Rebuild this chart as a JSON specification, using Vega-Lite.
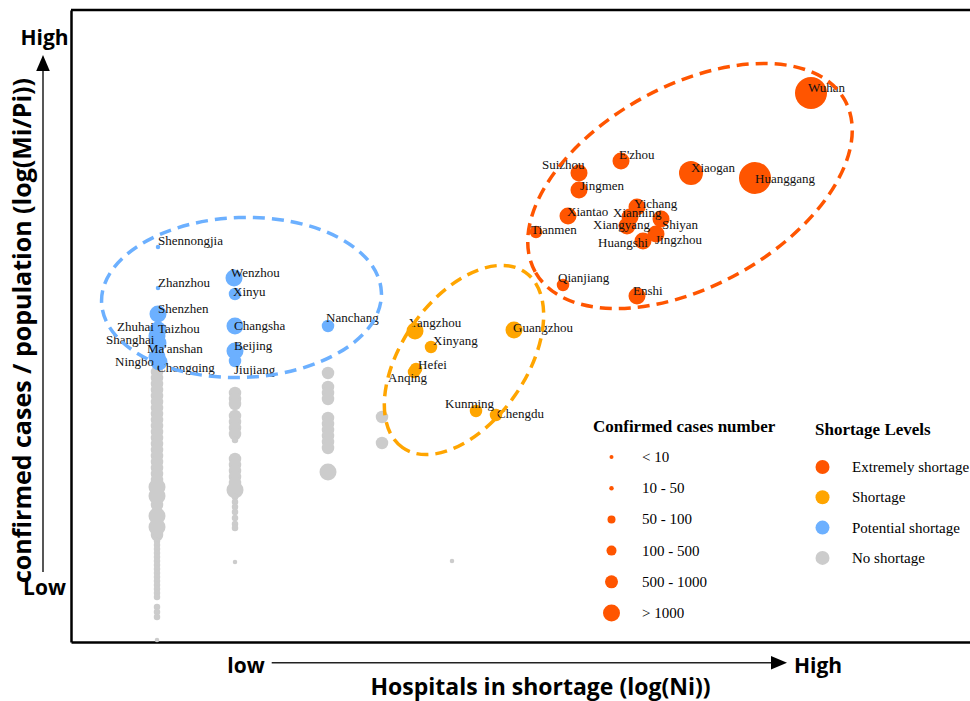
{
  "$schema": "https://vega.github.io/schema/vega-lite/v6.json",
  "width": 899,
  "height": 632,
  "autosize": {"type": "none"},
  "padding": {"left": 71, "top": 10, "right": 0, "bottom": 59},
  "background": "white",
  "config": {"view": {"stroke": null}},
  "resolve": {"scale": {"size": "independent"}, "legend": {"size": "independent"}},
  "datasets": {
    "points": [
      {"level": "No shortage", "cases": 50, "x": 0.86, "y": 2.70},
      {"level": "No shortage", "cases": 50, "x": 0.86, "y": 2.64},
      {"level": "No shortage", "cases": 50, "x": 0.86, "y": 2.58},
      {"level": "No shortage", "cases": 50, "x": 0.86, "y": 2.52},
      {"level": "No shortage", "cases": 50, "x": 0.86, "y": 2.46},
      {"level": "No shortage", "cases": 50, "x": 0.86, "y": 2.40},
      {"level": "No shortage", "cases": 50, "x": 0.86, "y": 2.34},
      {"level": "No shortage", "cases": 50, "x": 0.86, "y": 2.28},
      {"level": "No shortage", "cases": 50, "x": 0.86, "y": 2.22},
      {"level": "No shortage", "cases": 50, "x": 0.86, "y": 2.16},
      {"level": "No shortage", "cases": 50, "x": 0.86, "y": 2.10},
      {"level": "No shortage", "cases": 50, "x": 0.86, "y": 2.04},
      {"level": "No shortage", "cases": 50, "x": 0.86, "y": 1.98},
      {"level": "No shortage", "cases": 50, "x": 0.86, "y": 1.92},
      {"level": "No shortage", "cases": 50, "x": 0.86, "y": 1.86},
      {"level": "No shortage", "cases": 50, "x": 0.86, "y": 1.80},
      {"level": "No shortage", "cases": 50, "x": 0.86, "y": 1.74},
      {"level": "No shortage", "cases": 50, "x": 0.86, "y": 1.68},
      {"level": "No shortage", "cases": 50, "x": 0.86, "y": 1.62},
      {"level": "No shortage", "cases": 50, "x": 0.86, "y": 1.37},
      {"level": "No shortage", "cases": 50, "x": 0.86, "y": 1.07},
      {"level": "No shortage", "cases": 100, "x": 0.86, "y": 1.55},
      {"level": "No shortage", "cases": 100, "x": 0.86, "y": 1.46},
      {"level": "No shortage", "cases": 100, "x": 0.86, "y": 1.26},
      {"level": "No shortage", "cases": 100, "x": 0.86, "y": 1.15},
      {"level": "No shortage", "cases": 10, "x": 0.86, "y": 1.01},
      {"level": "No shortage", "cases": 10, "x": 0.86, "y": 0.97},
      {"level": "No shortage", "cases": 10, "x": 0.86, "y": 0.93},
      {"level": "No shortage", "cases": 10, "x": 0.86, "y": 0.89},
      {"level": "No shortage", "cases": 10, "x": 0.86, "y": 0.85},
      {"level": "No shortage", "cases": 10, "x": 0.86, "y": 0.81},
      {"level": "No shortage", "cases": 10, "x": 0.86, "y": 0.77},
      {"level": "No shortage", "cases": 10, "x": 0.86, "y": 0.73},
      {"level": "No shortage", "cases": 10, "x": 0.86, "y": 0.69},
      {"level": "No shortage", "cases": 10, "x": 0.86, "y": 0.65},
      {"level": "No shortage", "cases": 10, "x": 0.86, "y": 0.61},
      {"level": "No shortage", "cases": 10, "x": 0.86, "y": 0.57},
      {"level": "No shortage", "cases": 10, "x": 0.86, "y": 0.53},
      {"level": "No shortage", "cases": 10, "x": 0.86, "y": 0.49},
      {"level": "No shortage", "cases": 10, "x": 0.86, "y": 0.45},
      {"level": "No shortage", "cases": 10, "x": 0.86, "y": 0.35},
      {"level": "No shortage", "cases": 10, "x": 0.86, "y": 0.30},
      {"level": "No shortage", "cases": 10, "x": 0.86, "y": 0.25},
      {"level": "No shortage", "cases": 5, "x": 0.86, "y": 0.02},
      {"level": "No shortage", "cases": 50, "x": 1.64, "y": 2.49},
      {"level": "No shortage", "cases": 50, "x": 1.64, "y": 2.43},
      {"level": "No shortage", "cases": 50, "x": 1.64, "y": 2.38},
      {"level": "No shortage", "cases": 50, "x": 1.64, "y": 2.26},
      {"level": "No shortage", "cases": 50, "x": 1.64, "y": 2.20},
      {"level": "No shortage", "cases": 50, "x": 1.64, "y": 2.14},
      {"level": "No shortage", "cases": 50, "x": 1.64, "y": 2.08},
      {"level": "No shortage", "cases": 10, "x": 1.64, "y": 2.02},
      {"level": "No shortage", "cases": 50, "x": 1.64, "y": 1.83},
      {"level": "No shortage", "cases": 50, "x": 1.64, "y": 1.77},
      {"level": "No shortage", "cases": 50, "x": 1.64, "y": 1.71},
      {"level": "No shortage", "cases": 50, "x": 1.64, "y": 1.65},
      {"level": "No shortage", "cases": 50, "x": 1.64, "y": 1.59},
      {"level": "No shortage", "cases": 100, "x": 1.64, "y": 1.52},
      {"level": "No shortage", "cases": 10, "x": 1.64, "y": 1.45},
      {"level": "No shortage", "cases": 10, "x": 1.64, "y": 1.40},
      {"level": "No shortage", "cases": 10, "x": 1.64, "y": 1.35},
      {"level": "No shortage", "cases": 10, "x": 1.64, "y": 1.30},
      {"level": "No shortage", "cases": 10, "x": 1.64, "y": 1.24},
      {"level": "No shortage", "cases": 10, "x": 1.64, "y": 1.18},
      {"level": "No shortage", "cases": 10, "x": 1.64, "y": 1.14},
      {"level": "No shortage", "cases": 5, "x": 1.64, "y": 0.80},
      {"level": "No shortage", "cases": 50, "x": 2.57, "y": 2.69},
      {"level": "No shortage", "cases": 50, "x": 2.57, "y": 2.55},
      {"level": "No shortage", "cases": 50, "x": 2.57, "y": 2.49},
      {"level": "No shortage", "cases": 50, "x": 2.57, "y": 2.43},
      {"level": "No shortage", "cases": 50, "x": 2.57, "y": 2.24},
      {"level": "No shortage", "cases": 50, "x": 2.57, "y": 2.18},
      {"level": "No shortage", "cases": 50, "x": 2.57, "y": 2.12},
      {"level": "No shortage", "cases": 50, "x": 2.57, "y": 2.06},
      {"level": "No shortage", "cases": 50, "x": 2.57, "y": 2.00},
      {"level": "No shortage", "cases": 50, "x": 2.57, "y": 1.94},
      {"level": "No shortage", "cases": 100, "x": 2.57, "y": 1.70},
      {"level": "No shortage", "cases": 50, "x": 3.11, "y": 2.25},
      {"level": "No shortage", "cases": 50, "x": 3.11, "y": 1.99},
      {"level": "No shortage", "cases": 5, "x": 3.81, "y": 0.81},
      {"city": "Wuhan", "level": "Extremely shortage", "cases": 1000, "x": 7.40, "y": 5.49, "lx": 7.37, "ly": 5.54},
      {"city": "Huanggang", "level": "Extremely shortage", "cases": 1000, "x": 6.84, "y": 4.64, "lx": 6.84, "ly": 4.63},
      {"city": "Xiaogan", "level": "Extremely shortage", "cases": 500, "x": 6.20, "y": 4.69, "lx": 6.20, "ly": 4.74},
      {"city": "E'zhou", "level": "Extremely shortage", "cases": 100, "x": 5.50, "y": 4.81, "lx": 5.48, "ly": 4.87},
      {"city": "Suizhou", "level": "Extremely shortage", "cases": 100, "x": 5.08, "y": 4.69, "lx": 4.71, "ly": 4.77},
      {"city": "Jingmen", "level": "Extremely shortage", "cases": 100, "x": 5.08, "y": 4.52, "lx": 5.09, "ly": 4.56},
      {"city": "Xiantao", "level": "Extremely shortage", "cases": 100, "x": 4.97, "y": 4.26, "lx": 4.96, "ly": 4.30},
      {"city": "Tianmen", "level": "Extremely shortage", "cases": 50, "x": 4.65, "y": 4.10, "lx": 4.60, "ly": 4.12},
      {"city": "Yichang", "level": "Extremely shortage", "cases": 100, "x": 5.66, "y": 4.35, "lx": 5.63, "ly": 4.38},
      {"city": "Xianning", "level": "Extremely shortage", "cases": 100, "x": 5.59, "y": 4.25, "lx": 5.42, "ly": 4.29},
      {"city": "Xiangyang", "level": "Extremely shortage", "cases": 100, "x": 5.56, "y": 4.16, "lx": 5.22, "ly": 4.17},
      {"city": "Shiyan", "level": "Extremely shortage", "cases": 100, "x": 5.90, "y": 4.23, "lx": 5.91, "ly": 4.17},
      {"city": "Huangshi", "level": "Extremely shortage", "cases": 100, "x": 5.72, "y": 4.01, "lx": 5.27, "ly": 3.99},
      {"city": "Jingzhou", "level": "Extremely shortage", "cases": 100, "x": 5.85, "y": 4.08, "lx": 5.84, "ly": 4.02},
      {"city": "Qianjiang", "level": "Extremely shortage", "cases": 50, "x": 4.92, "y": 3.57, "lx": 4.87, "ly": 3.64},
      {"city": "Enshi", "level": "Extremely shortage", "cases": 100, "x": 5.66, "y": 3.46, "lx": 5.62, "ly": 3.51},
      {"city": "Yangzhou", "level": "Shortage", "cases": 100, "x": 3.44, "y": 3.11, "lx": 3.38, "ly": 3.19},
      {"city": "Xinyang", "level": "Shortage", "cases": 50, "x": 3.60, "y": 2.95, "lx": 3.62, "ly": 3.01},
      {"city": "Hefei", "level": "Shortage", "cases": 50, "x": 3.45, "y": 2.73, "lx": 3.47, "ly": 2.77},
      {"city": "Anqing", "level": "Shortage", "cases": 50, "x": 3.43, "y": 2.70, "lx": 3.17, "ly": 2.64},
      {"city": "Guangzhou", "level": "Shortage", "cases": 100, "x": 4.43, "y": 3.12, "lx": 4.42, "ly": 3.14},
      {"city": "Kunming", "level": "Shortage", "cases": 50, "x": 4.05, "y": 2.31, "lx": 3.74, "ly": 2.38},
      {"city": "Chengdu", "level": "Shortage", "cases": 50, "x": 4.25, "y": 2.27, "lx": 4.26, "ly": 2.28},
      {"city": "Shennongjia", "level": "Potential shortage", "cases": 5, "x": 0.87, "y": 3.95, "lx": 0.87, "ly": 4.01},
      {"city": "Zhanzhou", "level": "Potential shortage", "cases": 5, "x": 0.87, "y": 3.54, "lx": 0.87, "ly": 3.59},
      {"city": "Shenzhen", "level": "Potential shortage", "cases": 100, "x": 0.87, "y": 3.28, "lx": 0.87, "ly": 3.33},
      {"city": "Taizhou", "level": "Potential shortage", "cases": 100, "x": 0.87, "y": 3.12, "lx": 0.87, "ly": 3.13},
      {"city": "Zhuhai", "level": "Potential shortage", "cases": 100, "x": 0.86, "y": 3.06, "lx": 0.46, "ly": 3.15},
      {"city": "Shanghai", "level": "Potential shortage", "cases": 100, "x": 0.87, "y": 2.99, "lx": 0.35, "ly": 3.02},
      {"city": "Ma'anshan", "level": "Potential shortage", "cases": 50, "x": 0.86, "y": 2.92, "lx": 0.76, "ly": 2.93},
      {"city": "Ningbo", "level": "Potential shortage", "cases": 100, "x": 0.86, "y": 2.85, "lx": 0.44, "ly": 2.80},
      {"city": "Chongqing", "level": "Potential shortage", "cases": 100, "x": 0.88, "y": 2.80, "lx": 0.86, "ly": 2.74},
      {"city": "Wenzhou", "level": "Potential shortage", "cases": 100, "x": 1.63, "y": 3.64, "lx": 1.60, "ly": 3.69},
      {"city": "Xinyu", "level": "Potential shortage", "cases": 50, "x": 1.64, "y": 3.48, "lx": 1.62, "ly": 3.50},
      {"city": "Changsha", "level": "Potential shortage", "cases": 100, "x": 1.64, "y": 3.16, "lx": 1.63, "ly": 3.16},
      {"city": "Beijing", "level": "Potential shortage", "cases": 100, "x": 1.64, "y": 2.91, "lx": 1.63, "ly": 2.96},
      {"city": "Jiujiang", "level": "Potential shortage", "cases": 50, "x": 1.64, "y": 2.81, "lx": 1.63, "ly": 2.72},
      {"city": "Nanchang", "level": "Potential shortage", "cases": 50, "x": 2.57, "y": 3.16, "lx": 2.55, "ly": 3.24}
    ]
  },
  "layer": [
    {
      "data": {"name": "points"},
      "mark": {"type": "point", "filled": true, "opacity": 1, "shape": "circle", "strokeWidth": 0},
      "encoding": {
        "x": {
          "field": "x", "type": "quantitative",
          "scale": {"domain": [0, 8.99], "nice": false, "zero": false},
          "axis": {
            "values": [1.745, 7.465],
            "labelExpr": "datum.value < 4 ? 'low' : 'High'",
            "ticks": false, "tickSize": 0, "grid": false,
            "domainColor": "black", "domainWidth": 2.5,
            "labelFont": "Open Sans", "labelFontWeight": "bold", "labelFontSize": 21, "labelColor": "black",
            "labelAlign": "center", "labelBaseline": "alphabetic", "labelPadding": 30.5,
            "labelFlush": false, "labelOverlap": false,
            "title": "Hospitals in shortage (log(Ni))",
            "titleFont": "Open Sans", "titleFontWeight": "bold", "titleFontSize": 23, "titleColor": "black",
            "titleX": 469, "titleY": 52.5, "titleBaseline": "alphabetic", "titleAlign": "center"
          }
        },
        "y": {
          "field": "y", "type": "quantitative",
          "scale": {"domain": [0, 6.32], "nice": false, "zero": false},
          "axis": {
            "values": [0.54, 6.04],
            "labelExpr": "datum.value > 3 ? 'High' : 'Low'",
            "ticks": false, "tickSize": 0, "grid": false,
            "domainColor": "black", "domainWidth": 2.5,
            "labelFont": "Open Sans", "labelFontWeight": "bold", "labelFontSize": 21, "labelColor": "black",
            "labelAlign": "center", "labelBaseline": "middle", "labelPadding": 27,
            "labelFlush": false, "labelOverlap": false,
            "title": "confirmed cases / population (log(Mi/Pi))",
            "titleFont": "Open Sans", "titleFontWeight": "bold", "titleFontSize": 25, "titleColor": "black",
            "titleX": -41, "titleY": 320, "titleAngle": -90, "titleBaseline": "alphabetic", "titleAlign": "center"
          }
        },
        "color": {
          "field": "level", "type": "nominal",
          "scale": {
            "domain": ["Extremely shortage", "Shortage", "Potential shortage", "No shortage"],
            "range": ["#ff5500", "#ffa500", "#6cb0ff", "#cccccc"]
          },
          "legend": {
            "orient": "none", "legendX": 744, "legendY": 412, "direction": "vertical",
            "title": "Shortage Levels", "titleLimit": 400,
            "titleFont": "Liberation Serif", "titleFontSize": 17, "titleFontWeight": "bold", "titleColor": "black",
            "titlePadding": 18,
            "labelFont": "Liberation Serif", "labelFontSize": 15, "labelColor": "black", "labelOffset": 22, "labelLimit": 400,
            "symbolType": "circle", "symbolSize": 196, "symbolStrokeWidth": 0, "symbolOpacity": 1,
            "clipHeight": 20, "rowPadding": 10.3, "padding": 0
          }
        },
        "size": {
          "field": "cases", "type": "quantitative",
          "scale": {"type": "threshold", "domain": [10, 50, 100, 500, 1000], "range": [20, 42, 156, 289, 576, 1024]},
          "legend": null
        }
      }
    },
    {
      "data": {"name": "points"},
      "transform": [{"filter": "datum.cases < 0"}],
      "mark": {"type": "point", "filled": true, "opacity": 1, "shape": "circle", "strokeWidth": 0, "color": "#ff5500"},
      "encoding": {
        "size": {
          "field": "cases", "type": "quantitative",
          "scale": {"type": "threshold", "domain": [10, 50, 100, 500, 1000], "range": [16, 20, 64, 100, 169, 289]},
          "legend": {
            "orient": "none", "legendX": 522, "legendY": 409, "direction": "vertical",
            "title": "Confirmed cases number", "titleLimit": 400,
            "titleFont": "Liberation Serif", "titleFontSize": 17, "titleFontWeight": "bold", "titleColor": "black",
            "titlePadding": 11,
            "labelFont": "Liberation Serif", "labelFontSize": 15, "labelColor": "black", "labelOffset": 22,
            "labelExpr": "['< 10', '10 - 50', '50 - 100', '100 - 500', '500 - 1000', '> 1000'][datum.index]",
            "symbolFillColor": "#ff5500", "symbolStrokeWidth": 0, "symbolOpacity": 1, "symbolOffset": 10,
            "clipHeight": 20, "rowPadding": 11.2, "padding": 0
          }
        }
      }
    },
    {
      "data": {"name": "points"},
      "transform": [{"filter": "isValid(datum.city)"}],
      "mark": {"type": "text", "align": "left", "baseline": "middle", "font": "Liberation Serif", "fontSize": 13, "color": "#111111"},
      "encoding": {
        "x": {"field": "lx", "type": "quantitative", "scale": {"domain": [0, 8.99], "nice": false, "zero": false}},
        "y": {"field": "ly", "type": "quantitative", "scale": {"domain": [0, 6.32], "nice": false, "zero": false}},
        "text": {"field": "city"}
      }
    },
    {
      "data": {"values": [{"group": "Extremely shortage", "cx": 6.19, "cy": 4.56}]},
      "mark": {"type": "point", "filled": false, "opacity": 1, "stroke": "#ff5500", "color": "#ff5500", "strokeWidth": 3.5, "strokeDash": [12, 7], "size": 125316, "angle": -29,
        "shape": "M-1,0C-1,-0.312,-0.552,-0.565,0,-0.565C0.552,-0.565,1,-0.312,1,0C1,0.312,0.552,0.565,0,0.565C-0.552,0.565,-1,0.312,-1,0Z"},
      "encoding": {
        "x": {"field": "cx", "type": "quantitative", "scale": {"domain": [0, 8.99], "nice": false, "zero": false}},
        "y": {"field": "cy", "type": "quantitative", "scale": {"domain": [0, 6.32], "nice": false, "zero": false}}
      }
    },
    {
      "data": {"values": [{"group": "Shortage", "cx": 3.93, "cy": 2.82}]},
      "mark": {"type": "point", "filled": false, "opacity": 1, "stroke": "#ffa500", "color": "#ffa500", "strokeWidth": 3.5, "strokeDash": [12, 7], "size": 45796, "angle": -55,
        "shape": "M-1,0C-1,-0.320,-0.552,-0.58,0,-0.58C0.552,-0.58,1,-0.320,1,0C1,0.320,0.552,0.58,0,0.58C-0.552,0.58,-1,0.320,-1,0Z"},
      "encoding": {
        "x": {"field": "cx", "type": "quantitative", "scale": {"domain": [0, 8.99], "nice": false, "zero": false}},
        "y": {"field": "cy", "type": "quantitative", "scale": {"domain": [0, 6.32], "nice": false, "zero": false}}
      }
    },
    {
      "data": {"values": [{"group": "Potential shortage", "cx": 1.705, "cy": 3.445}]},
      "mark": {"type": "point", "filled": false, "opacity": 1, "stroke": "#6cb0ff", "color": "#6cb0ff", "strokeWidth": 3.5, "strokeDash": [12, 7], "size": 78400, "angle": -2,
        "shape": "M-1,0C-1,-0.315,-0.552,-0.571,0,-0.571C0.552,-0.571,1,-0.315,1,0C1,0.315,0.552,0.571,0,0.571C-0.552,0.571,-1,0.315,-1,0Z"},
      "encoding": {
        "x": {"field": "cx", "type": "quantitative", "scale": {"domain": [0, 8.99], "nice": false, "zero": false}},
        "y": {"field": "cy", "type": "quantitative", "scale": {"domain": [0, 6.32], "nice": false, "zero": false}}
      }
    },
    {
      "data": {"values": [{"x": 0, "x2": 8.99, "y": 6.32}]},
      "mark": {"type": "rule", "color": "black", "strokeWidth": 2.5},
      "encoding": {
        "x": {"field": "x", "type": "quantitative", "scale": {"domain": [0, 8.99], "nice": false, "zero": false}},
        "x2": {"field": "x2"},
        "y": {"field": "y", "type": "quantitative", "scale": {"domain": [0, 6.32], "nice": false, "zero": false}}
      }
    },
    {
      "data": {"values": [{"x": 2.007, "x2": 7.04, "y": -0.207}]},
      "mark": {"type": "rule", "color": "#222222", "strokeWidth": 1.5},
      "encoding": {
        "x": {"field": "x", "type": "quantitative", "scale": {"domain": [0, 8.99], "nice": false, "zero": false}},
        "x2": {"field": "x2"},
        "y": {"field": "y", "type": "quantitative", "scale": {"domain": [0, 6.32], "nice": false, "zero": false}}
      }
    },
    {
      "data": {"values": [{"x": -0.28, "y": 0.70, "y2": 5.72}]},
      "mark": {"type": "rule", "color": "#444444", "strokeWidth": 1.8},
      "encoding": {
        "x": {"field": "x", "type": "quantitative", "scale": {"domain": [0, 8.99], "nice": false, "zero": false}},
        "y": {"field": "y", "type": "quantitative", "scale": {"domain": [0, 6.32], "nice": false, "zero": false}},
        "y2": {"field": "y2"}
      }
    },
    {
      "data": {"values": [{"x": 7.08, "y": -0.207}]},
      "mark": {"type": "point", "filled": true, "opacity": 1, "color": "black", "strokeWidth": 0, "size": 256, "shape": "M-1,-0.85L1,0L-1,0.85Z"},
      "encoding": {
        "x": {"field": "x", "type": "quantitative", "scale": {"domain": [0, 8.99], "nice": false, "zero": false}},
        "y": {"field": "y", "type": "quantitative", "scale": {"domain": [0, 6.32], "nice": false, "zero": false}}
      }
    },
    {
      "data": {"values": [{"x": -0.28, "y": 5.79}]},
      "mark": {"type": "point", "filled": true, "opacity": 1, "color": "black", "strokeWidth": 0, "size": 256, "shape": "M-0.85,1L0,-1L0.85,1Z"},
      "encoding": {
        "x": {"field": "x", "type": "quantitative", "scale": {"domain": [0, 8.99], "nice": false, "zero": false}},
        "y": {"field": "y", "type": "quantitative", "scale": {"domain": [0, 6.32], "nice": false, "zero": false}}
      }
    }
  ]
}
